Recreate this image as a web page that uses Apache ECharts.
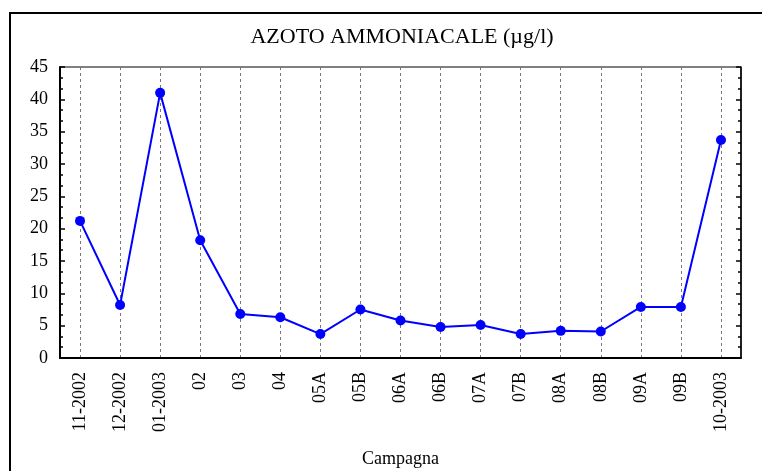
<!DOCTYPE html>
<html>
<head>
<meta charset="utf-8">
<script src="https://cdn.jsdelivr.net/npm/echarts@6/dist/echarts.min.js"></script>
<style>
    html, body { margin: 0; padding: 0; background: #fff; }
    #chart { width: 762px; height: 471px; }
</style>
</head>
<body>
<div id="chart"></div>
<script>
    var campagne = ['11-2002', '12-2002', '01-2003', '02', '03', '04', '05A', '05B', '06A', '06B', '07A', '07B', '08A', '08B', '09A', '09B', '10-2003'];
    var azoto = [21.2, 8.2, 41.0, 18.2, 6.8, 6.3, 3.7, 7.5, 5.8, 4.8, 5.1, 3.7, 4.2, 4.1, 7.9, 7.9, 33.7];
    var yMin = 0, yMax = 45, yStep = 5;

    var font = 'Liberation Serif';

    var myChart = echarts.init(document.getElementById('chart'));
    var option = {
        animation: false,
        backgroundColor: '#fff',
        title: {
            text: 'AZOTO AMMONIACALE (\u00b5g/l)',
            left: 397,
            top: 21,
            textAlign: 'center',
            textStyle: { fontFamily: font, fontSize: 22, fontWeight: 'normal', color: '#000' }
        },
        graphic: [{
            type: 'rect',
            shape: { x: 10, y: 13, width: 800, height: 500 },
            style: { fill: 'none', stroke: '#000', lineWidth: 2 }
        }],
        grid: {
            left: 60, right: 21, top: 67, bottom: 113,
            outerBoundsMode: 'none',
            show: true, borderColor: '#000', borderWidth: 1
        },
        xAxis: [{
            type: 'category',
            data: campagne,
            boundaryGap: true,
            name: 'Campagna',
            nameLocation: 'middle',
            nameGap: 92,
            nameTextStyle: { fontFamily: font, fontSize: 18, color: '#000' },
            axisLine: { lineStyle: { color: '#000', width: 2 } },
            axisTick: { show: false },
            axisLabel: {
                rotate: 90, margin: 14, interval: 0,
                fontFamily: font, fontSize: 18, color: '#000'
            },
            splitLine: {
                show: true, alignWithLabel: true,
                lineStyle: { color: '#777', type: [3, 3], width: 1 }
            }
        }],
        yAxis: [{
            type: 'value',
            min: yMin, max: yMax, interval: yStep,
            axisLine: { show: true, lineStyle: { color: '#000', width: 2 } },
            axisTick: { show: true, inside: true, length: 5, lineStyle: { color: '#000', width: 1.5 } },
            minorTick: { show: true, splitNumber: 3, length: 3, lineStyle: { color: '#000', width: 1.5 } },
            axisLabel: { margin: 12, fontFamily: font, fontSize: 18, color: '#000' },
            splitLine: { show: false }
        }, {
            type: 'value',
            position: 'right',
            min: yMin, max: yMax, interval: yStep,
            axisLine: { show: true, lineStyle: { color: '#000', width: 1.5 } },
            axisTick: { show: true, inside: true, length: 5, lineStyle: { color: '#000', width: 1.5 } },
            minorTick: { show: true, splitNumber: 3, length: 3, lineStyle: { color: '#000', width: 1.5 } },
            axisLabel: { show: false },
            splitLine: { show: false }
        }],
        series: [{
            name: 'Azoto ammoniacale',
            type: 'line',
            data: azoto,
            symbol: 'circle',
            symbolSize: 10,
            itemStyle: { color: '#0000ff' },
            lineStyle: { color: '#0000ff', width: 2 }
        }]
    };
    myChart.setOption(option);
</script>
</body>
</html>
